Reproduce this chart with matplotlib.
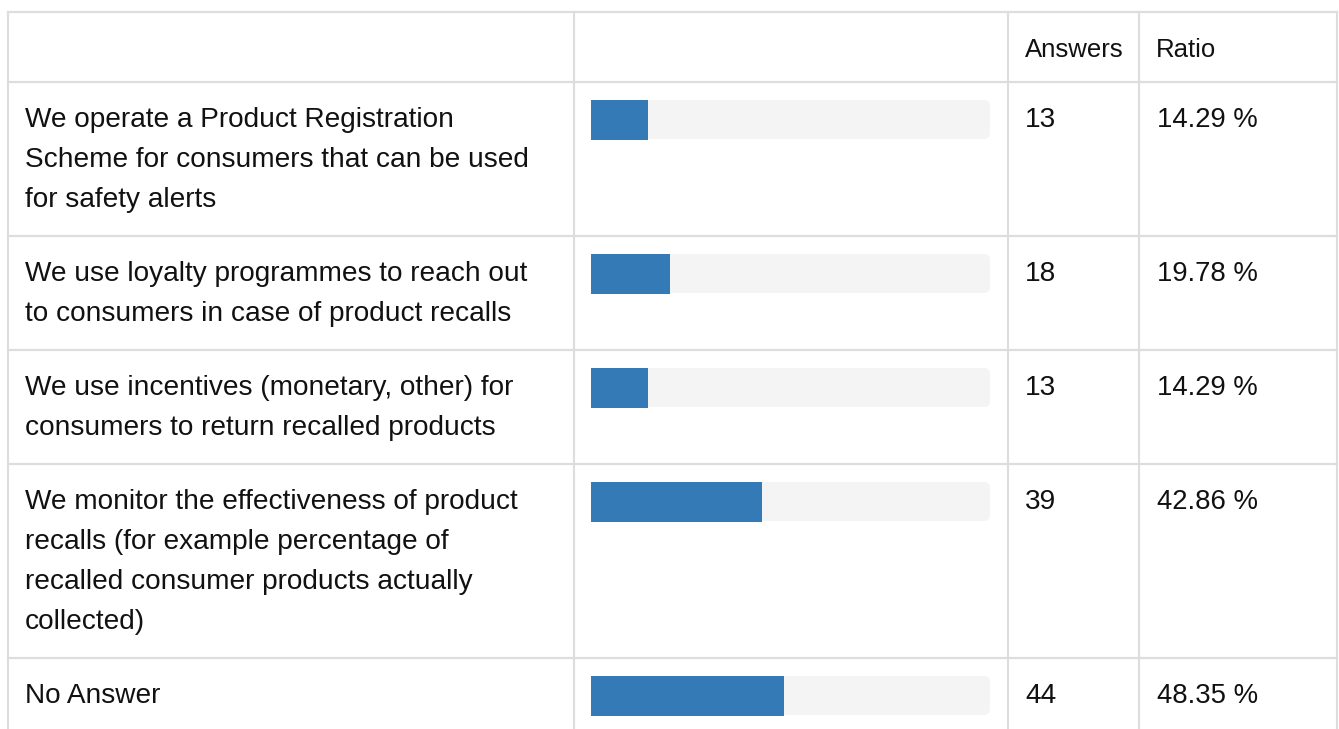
import matplotlib.pyplot as plt
from matplotlib.patches import FancyBboxPatch

# survey answers, one entry per row of the table
labels = [
    ["We operate a Product Registration", "Scheme for consumers that can be used", "for safety alerts"],
    ["We use loyalty programmes to reach out", "to consumers in case of product recalls"],
    ["We use incentives (monetary, other) for", "consumers to return recalled products"],
    ["We monitor the effectiveness of product", "recalls (for example percentage of",
     "recalled consumer products actually", "collected)"],
    ["No Answer"],
]
answers = [13, 18, 13, 39, 44]
ratios = [14.29, 19.78, 14.29, 42.86, 48.35]
headers = ["Answers", "Ratio"]

# layout in pixels (figure is 1339 x 729 at dpi 100)
W, H = 1339, 729
col_x = [8, 574, 1008, 1139, 1337]
top = 12
header_h = 70
line_h = 40
pad = 34
track_x0, track_x1 = 591, 990
grid_col = "#dddddd"
blue = "#337ab7"
track_col = "#f4f4f4"
txt_col = "#111111"
fs = 20.2

plt.rcParams['font.family'] = ['Liberation Sans', 'DejaVu Sans']
fig = plt.figure(figsize=(W / 100, H / 100), dpi=100)
ax = fig.add_axes([0, 0, 1, 1])
ax.set_xlim(0, W)
ax.set_ylim(H, 0)
ax.axis("off")

# header row
for i, h in enumerate(headers):
    ax.text(col_x[2 + i] + 17, top + 45, h, fontsize=18.5, va="baseline", color=txt_col)

# row boundaries
row_tops = [top + header_h]
for lab in labels:
    row_tops.append(row_tops[-1] + pad + line_h * len(lab))

for r, lab in enumerate(labels):
    y0 = row_tops[r]
    for k, line in enumerate(lab):
        ax.text(col_x[0] + 17, y0 + 45 + line_h * k, line, fontsize=fs, va="baseline", color=txt_col)
    ax.text(col_x[2] + 17, y0 + 45, str(answers[r]), fontsize=fs, va="baseline", color=txt_col)
    ax.text(col_x[3] + 18, y0 + 45, "%.2f %%" % ratios[r], fontsize=19.8, va="baseline", color=txt_col)
    # progress track and bar
    track = FancyBboxPatch((track_x0, y0 + 18), track_x1 - track_x0, 39,
                           boxstyle="round,pad=0,rounding_size=6",
                           fc=track_col, ec="none", zorder=1)
    ax.add_patch(track)
    ax.barh(y0 + 38, ratios[r] / 100 * (track_x1 - track_x0), height=40,
            left=track_x0, color=blue, zorder=2)

# grid lines
for y in [top] + row_tops:
    ax.plot([col_x[0], col_x[-1]], [y, y], color=grid_col, lw=1.6, zorder=3)
for x in col_x:
    ax.plot([x, x], [top, H], color=grid_col, lw=1.5, zorder=3)

fig.savefig("out.png", dpi=100)
